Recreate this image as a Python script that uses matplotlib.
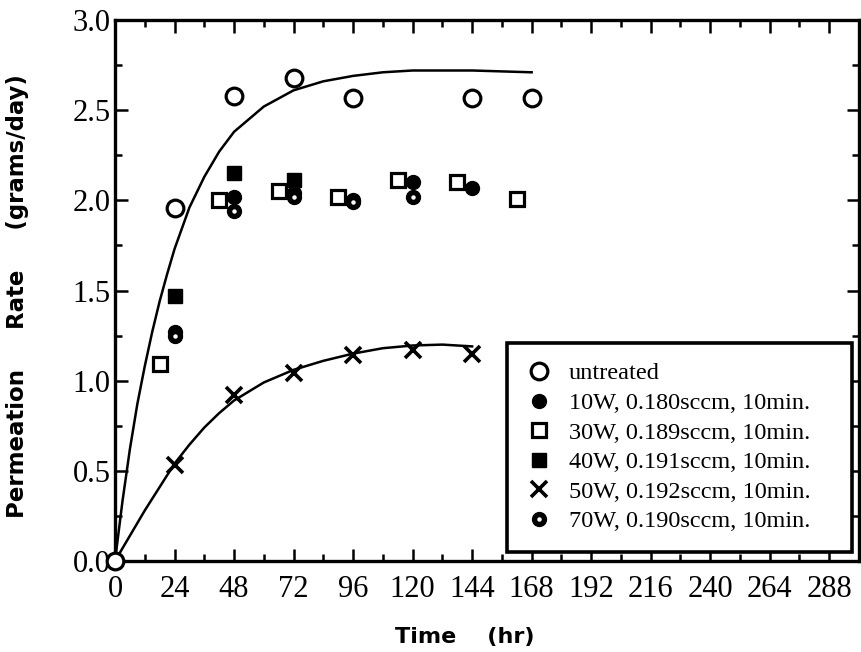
import matplotlib.pyplot as plt
from matplotlib.legend_handler import HandlerTuple
from matplotlib.ticker import MultipleLocator

# ── Dados ───────────────────────────────────────────────────────────────────
untreated_t = [0, 24, 48, 72, 96, 144, 168]
untreated_y = [0.0, 1.96, 2.58, 2.68, 2.57, 2.57, 2.57]

w10_t = [24, 48, 72, 96, 120, 144]
w10_y = [1.27, 2.02, 2.04, 2.00, 2.10, 2.07]

w30_t = [18, 42, 66, 90, 114, 138, 162]
w30_y = [1.09, 2.00, 2.05, 2.02, 2.11, 2.10, 2.01]

w40_t = [24, 48, 72]
w40_y = [1.47, 2.15, 2.11]

w50_t = [24, 48, 72, 96, 120, 144]
w50_y = [0.53, 0.92, 1.04, 1.14, 1.17, 1.15]

w70_t = [24, 48, 72, 96, 120]
w70_y = [1.25, 1.94, 2.02, 1.99, 2.02]

# curvas ajustadas (pontos lidos ao longo das linhas)
fit_u_t = [0, 3, 6, 9, 12, 15, 18, 21, 24, 30, 36, 42, 48, 60, 72, 84, 96, 108, 120, 132, 144, 156, 168]
fit_u_y = [0.0, 0.33, 0.62, 0.87, 1.08, 1.27, 1.44, 1.59, 1.73, 1.96, 2.13, 2.27, 2.38, 2.52, 2.61, 2.66, 2.69, 2.71, 2.72, 2.72, 2.72, 2.715, 2.71]

fit_50_t = [0, 6, 12, 18, 24, 30, 36, 42, 48, 60, 72, 84, 96, 108, 120, 132, 144]
fit_50_y = [0.0, 0.14, 0.28, 0.41, 0.54, 0.645, 0.74, 0.82, 0.89, 0.99, 1.06, 1.11, 1.15, 1.18, 1.195, 1.20, 1.19]

labels = ['untreated',
          '10W, 0.180sccm, 10min.',
          '30W, 0.189sccm, 10min.',
          '40W, 0.191sccm, 10min.',
          '50W, 0.192sccm, 10min.',
          '70W, 0.190sccm, 10min.']

xticks = [0, 24, 48, 72, 96, 120, 144, 168, 192, 216, 240, 264, 288]
yticks = [0.0, 0.5, 1.0, 1.5, 2.0, 2.5, 3.0]

# ── Figura ─────────────────────────────────────────────────────────────────
serif = ['Liberation Serif', 'DejaVu Serif']
sans = ['DejaVu Sans']

fig = plt.figure(figsize=(8.62, 6.52), dpi=100)
ax = fig.add_axes([115 / 862, 1 - 561 / 652, 744 / 862, 541 / 652])

ax.plot(fit_u_t, fit_u_y, color='black', linewidth=1.8, zorder=2)
ax.plot(fit_50_t, fit_50_y, color='black', linewidth=1.8, zorder=2)

h_u, = ax.plot(untreated_t, untreated_y, 'o', ms=12, mfc='white', mec='black', mew=2.3,
               linestyle='none', clip_on=False, zorder=4)
h_10, = ax.plot(w10_t, w10_y, 'o', ms=10, color='black', linestyle='none', zorder=3)
h_30, = ax.plot(w30_t, w30_y, 's', ms=10, mfc='white', mec='black', mew=2.3, linestyle='none', zorder=3)
h_40, = ax.plot(w40_t, w40_y, 's', ms=10, color='black', linestyle='none', zorder=3)
h_50, = ax.plot(w50_t, w50_y, 'x', ms=11, color='black', mew=2.6, linestyle='none', zorder=3)
h_70, = ax.plot(w70_t, w70_y, 'o', ms=10, color='black', linestyle='none', zorder=3)
h_70d, = ax.plot(w70_t, w70_y, 'o', ms=2.2, color='white', linestyle='none', zorder=3.5)

ax.set_xlim(0, 300)
ax.set_ylim(0, 3.0)
ax.set_xticks(xticks)
ax.set_yticks(yticks)
ax.xaxis.set_minor_locator(MultipleLocator(12))
ax.yaxis.set_minor_locator(MultipleLocator(0.25))
ax.set_xticklabels([str(t) for t in xticks], family=serif, fontsize=22)
ax.set_yticklabels([f'{v:.1f}' for v in yticks], family=serif, fontsize=22)

ax.tick_params(which='both', direction='in', top=True, right=True, width=1.8, color='black')
ax.tick_params(which='major', length=9)
ax.tick_params(which='minor', length=5)
ax.tick_params(axis='x', which='major', pad=10)
ax.tick_params(axis='y', which='major', pad=3)
for s in ax.spines.values():
    s.set_linewidth(2.4)

ax.set_xlabel('Time    (hr)', family=sans, fontweight='bold', fontsize=16)
ax.xaxis.set_label_coords(0.47, -0.122)
ax.set_ylabel('Permeation     Rate     (grams/day)', family=sans, fontweight='bold', fontsize=16.5)
ax.yaxis.set_label_coords(-0.116, 0.49)

# legenda: canto superior esquerdo em (507, 343) px
leg_top = 1 - 343 / 652
leg = ax.legend([h_u, h_10, h_30, h_40, h_50, (h_70, h_70d)], labels,
                handler_map={tuple: HandlerTuple(ndivide=1)},
                loc='upper left', bbox_to_anchor=(507 / 862, leg_top - 0.01, 345 / 862, 0.01),
                bbox_transform=fig.transFigure, mode='expand',
                prop={'family': serif, 'size': 17.5}, frameon=True, fancybox=False,
                edgecolor='black', framealpha=1, borderpad=0.8, labelspacing=0.31,
                handlelength=1.0, handletextpad=0.75, borderaxespad=0)
leg.get_frame().set_linewidth(2.6)

fig.savefig('out.png', dpi=100)
